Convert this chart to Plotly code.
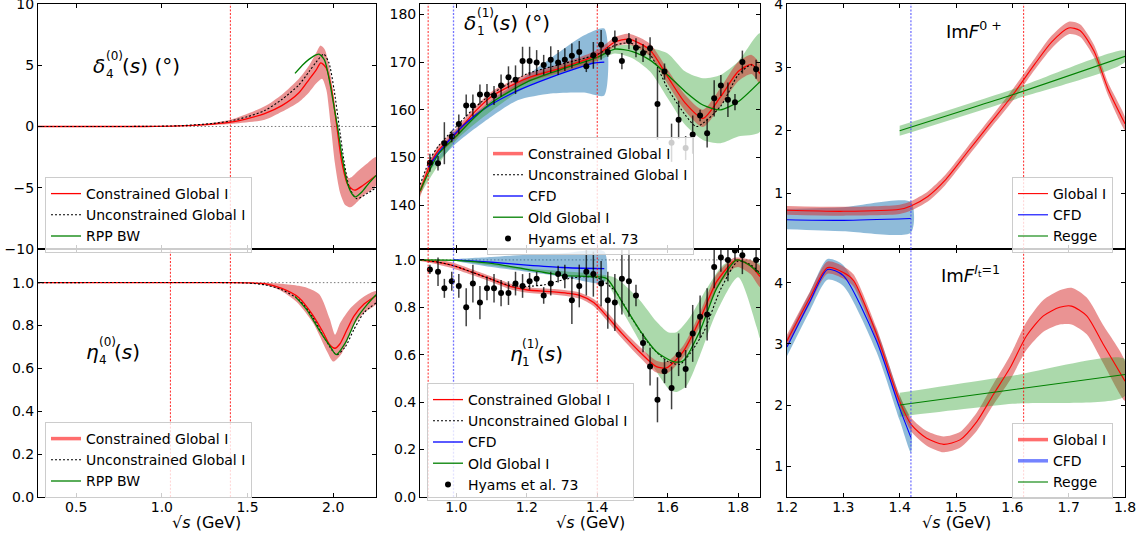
import plotly.graph_objects as go

FONT = "DejaVu Sans"
RED = "#ff0000"
BLUE = "#0000ff"
GREEN = "#008000"
RED_BAND = "rgba(214,39,40,0.5)"
BLUE_BAND = "rgba(31,119,180,0.5)"
GREEN_BAND = "rgba(44,160,44,0.4)"

# ---------------- Panel 1: delta_4^(0) ----------------
d4_con_x = [0.277, 0.6, 0.9, 1.1, 1.3, 1.4, 1.5, 1.6, 1.7, 1.8, 1.86, 1.9, 1.928, 1.96, 1.99, 2.02, 2.05, 2.085, 2.125, 2.175, 2.25]
d4_con_y = [0.0, 0.0, 0.0, 0.05, 0.2, 0.35, 0.65, 1.05, 1.7, 2.75, 3.85, 4.6, 5.2, 4.75, 3.1, 0.1, -2.9, -4.75, -5.2, -4.8, -4.0]
d4_up_x = [0.277, 1.0, 1.2, 1.4, 1.6, 1.7, 1.8, 1.86, 1.9, 1.925, 1.95, 1.975, 2.0, 2.03, 2.06, 2.09, 2.11, 2.14, 2.2, 2.25]
d4_up_y = [0.0, 0.03, 0.15, 0.55, 1.65, 2.6, 3.9, 5.0, 6.0, 6.6, 6.3, 5.0, 2.8, -0.2, -3.0, -4.2, -4.1, -3.7, -3.0, -2.5]
d4_lo_x = [0.277, 1.0, 1.2, 1.4, 1.6, 1.7, 1.8, 1.86, 1.9, 1.935, 1.96, 1.985, 2.01, 2.04, 2.07, 2.1, 2.13, 2.18, 2.25]
d4_lo_y = [0.0, 0.0, 0.05, 0.2, 0.55, 1.2, 2.0, 2.8, 3.5, 3.9, 3.0, 0.2, -3.0, -5.4, -6.4, -6.6, -6.3, -5.6, -4.8]
d4_unc_x = [0.277, 0.6, 0.9, 1.1, 1.3, 1.4, 1.5, 1.6, 1.7, 1.8, 1.86, 1.9, 1.945, 1.975, 2.005, 2.035, 2.065, 2.095, 2.138, 2.2, 2.25]
d4_unc_y = [0.0, 0.0, 0.01, 0.06, 0.25, 0.45, 0.8, 1.3, 2.2, 3.4, 4.5, 5.25, 5.9, 5.2, 3.0, 0.0, -3.0, -5.0, -5.9, -5.45, -5.0]
d4_rpp_x = [1.777, 1.82, 1.86, 1.9, 1.92, 1.95, 1.98, 2.0, 2.025, 2.05, 2.08, 2.105, 2.128, 2.17, 2.21, 2.25]
d4_rpp_y = [4.33, 5.0, 5.5, 5.85, 5.89, 5.4, 3.6, 2.0, 0.0, -2.3, -4.5, -5.4, -5.75, -5.3, -4.6, -4.0]
d4_vlines_red = [1.4]

# ---------------- Panel 2: eta_4^(0) ----------------
e4_con_x = [0.277, 1.0, 1.4, 1.5, 1.6, 1.7, 1.8, 1.88, 1.94, 1.98, 2.01, 2.04, 2.08, 2.12, 2.18, 2.25]
e4_con_y = [1.0, 1.0, 1.0, 0.999, 0.995, 0.973, 0.93, 0.85, 0.77, 0.71, 0.694, 0.715, 0.78, 0.843, 0.9, 0.939]
e4_up_x = [0.277, 1.4, 1.6, 1.7, 1.8, 1.85, 1.92, 1.98, 2.011, 2.04, 2.1, 2.18, 2.25]
e4_up_y = [1.0, 1.0, 1.0, 0.995, 0.985, 0.975, 0.945, 0.83, 0.757, 0.81, 0.88, 0.935, 0.96]
e4_lo_x = [0.277, 1.4, 1.6, 1.7, 1.787, 1.884, 1.963, 2.0, 2.05, 2.12, 2.18, 2.25]
e4_lo_y = [1.0, 0.999, 0.99, 0.96, 0.91, 0.81, 0.68, 0.632, 0.67, 0.80, 0.86, 0.9]
e4_unc_x = [0.277, 1.4, 1.5, 1.6, 1.7, 1.8, 1.88, 1.95, 2.02, 2.07, 2.12, 2.18, 2.25]
e4_unc_y = [1.0, 1.0, 0.998, 0.99, 0.967, 0.92, 0.84, 0.74, 0.664, 0.70, 0.78, 0.86, 0.905]
e4_rpp_x = [1.777, 1.845, 1.923, 1.982, 2.017, 2.07, 2.138, 2.2, 2.25]
e4_rpp_y = [0.936, 0.874, 0.773, 0.703, 0.664, 0.718, 0.834, 0.9, 0.944]
e4_vlines_red = [1.05, 1.4]

# ---------------- Panel 3: delta_1^(1) ----------------
d1_con_x = [0.897, 0.925, 0.95, 1.0, 1.05, 1.1, 1.2, 1.3, 1.4, 1.45, 1.49, 1.55, 1.6, 1.65, 1.7, 1.75, 1.8, 1.838, 1.862]
d1_con_y = [142.9, 148.4, 151.6, 155.1, 159.4, 162.8, 166.6, 168.8, 171.5, 174.2, 174.8, 172.5, 166.9, 161.4, 158.2, 162.7, 168.0, 169.5, 167.5]
d1_con_up = [144.1, 149.4, 152.6, 156.1, 160.4, 163.8, 167.5, 169.7, 172.5, 175.2, 175.9, 173.8, 168.4, 163.1, 160.0, 164.6, 170.0, 171.5, 169.5]
d1_con_lo = [141.7, 147.4, 150.6, 154.1, 158.4, 161.8, 165.7, 167.9, 170.5, 173.2, 173.7, 171.2, 165.4, 159.7, 156.4, 160.8, 166.0, 167.5, 165.5]
d1_unc_x = [0.897, 0.925, 0.95, 1.0, 1.05, 1.1, 1.2, 1.3, 1.4, 1.45, 1.492, 1.55, 1.6, 1.65, 1.682, 1.75, 1.8, 1.837, 1.862]
d1_unc_y = [144.3, 149.6, 152.5, 156.5, 160.3, 163.3, 167.5, 169.6, 171.6, 173.5, 174.0, 171.5, 164.5, 158.9, 156.5, 160.7, 167.3, 169.4, 167.8]
d1_cfd_x = [0.92, 0.95, 0.984, 1.03, 1.079, 1.174, 1.268, 1.363, 1.39, 1.42]
d1_cfd_y = [148.0, 151.0, 154.0, 157.4, 160.2, 164.0, 166.8, 169.2, 169.8, 170.0]
d1_cfd_bx = [0.92, 1.0, 1.1, 1.174, 1.268, 1.363, 1.42]
d1_cfd_up = [149.0, 155.8, 162.0, 165.8, 170.8, 175.6, 177.0]
d1_cfd_lo = [147.0, 153.0, 158.6, 162.0, 163.4, 163.6, 163.0]
d1_old_x = [0.897, 0.95, 1.0, 1.05, 1.1, 1.2, 1.3, 1.4, 1.45, 1.5, 1.55, 1.6, 1.65, 1.7, 1.75, 1.8, 1.862]
d1_old_y = [143.0, 150.8, 154.5, 158.3, 161.5, 165.8, 168.5, 171.0, 172.7, 172.2, 170.4, 167.3, 163.8, 161.0, 160.0, 161.7, 165.9]
d1_old_bx = [0.897, 1.0, 1.2, 1.4, 1.45, 1.5, 1.55, 1.6, 1.65, 1.7, 1.75, 1.8, 1.862]
d1_old_up = [143.8, 155.3, 166.6, 171.8, 173.4, 173.6, 173.0, 171.8, 168.0, 166.6, 167.3, 170.1, 176.0]
d1_old_lo = [142.2, 153.6, 164.8, 170.2, 171.8, 170.8, 168.0, 162.4, 156.8, 153.7, 153.0, 154.4, 155.4]

hyams_x = [0.925, 0.948, 0.966, 0.987, 1.007, 1.028, 1.047, 1.067, 1.087, 1.107, 1.127, 1.148, 1.168, 1.188, 1.208,
           1.228, 1.248, 1.268, 1.289, 1.308, 1.328, 1.349, 1.369, 1.389, 1.411, 1.43, 1.45, 1.47, 1.49, 1.51,
           1.53, 1.55, 1.571, 1.591, 1.611, 1.631, 1.651, 1.671, 1.692, 1.712, 1.732, 1.751, 1.771, 1.791, 1.812, 1.851]
hyams_delta = [148.9, 148.8, 153.0, 154.4, 157.0, 160.9, 160.9, 163.2, 163.2, 163.0, 165.1, 166.8, 166.3, 170.2, 170.2,
               169.9, 169.4, 170.5, 169.9, 170.5, 171.3, 172.1, 169.1, 171.4, 173.6, 172.1, 174.7, 170.2, 174.4, 173.0,
               171.9, 172.9, 161.2, 168.0, 153.1, 157.9, 152.0, 154.8, 158.8, 155.1, 162.4, 165.1, 162.1, 161.6, 170.0, 168.5]
hyams_delta_err = [1.9, 1.5, 4.4, 1.2, 2.0, 2.3, 2.3, 2.1, 2.2, 2.0, 2.3, 2.3, 3.0, 3.0, 3.0,
                   2.6, 2.1, 2.8, 2.6, 2.4, 2.6, 2.3, 1.2, 2.8, 3.1, 1.0, 1.9, 1.7, 1.7, 2.0,
                   1.9, 2.3, 7.5, 1.7, 4.0, 4.0, 2.5, 4.0, 1.2, 3.0, 3.8, 2.2, 3.6, 1.7, 2.4, 2.0]
hyams_eta = [0.96, 0.95, 0.88, 0.91, 0.89, 0.80, 0.90, 0.82, 0.88, 0.88, 0.86, 0.86, 0.90, 0.89, 0.91,
             0.92, 0.85, 0.90, 0.94, 0.93, 0.83, 0.89, 0.95, 0.94, 0.90, 0.83, 0.82, 0.92, 0.91, 0.85,
             0.65, 0.55, 0.41, 0.53, 0.46, 0.60, 0.54, 0.69, 0.76, 0.77, 0.97, 1.01, 1.00, 1.04, 1.02, 1.00]
hyams_eta_err = [0.02, 0.06, 0.04, 0.04, 0.05, 0.08, 0.08, 0.07, 0.05, 0.06, 0.055, 0.05, 0.05, 0.05, 0.035,
                 0.03, 0.035, 0.05, 0.035, 0.05, 0.1, 0.09, 0.1, 0.095, 0.095, 0.12, 0.12, 0.15, 0.15, 0.045,
                 0.04, 0.08, 0.095, 0.05, 0.09, 0.09, 0.08, 0.12, 0.09, 0.11, 0.09, 0.06, 0.09, 0.04, 0.08, 0.05]
mid_vlines_red = [0.92, 1.4]
mid_vlines_blue = [0.992]

# ---------------- Panel 4: eta_1^(1) ----------------
e1_con_x = [0.897, 0.95, 0.984, 1.041, 1.079, 1.117, 1.155, 1.202, 1.268, 1.316, 1.35, 1.39, 1.426, 1.47, 1.52, 1.568, 1.597, 1.644, 1.691, 1.739, 1.786, 1.80, 1.835, 1.862]
e1_con_y = [1.0, 0.99, 0.979, 0.95, 0.93, 0.908, 0.887, 0.873, 0.866, 0.859, 0.85, 0.82, 0.765, 0.69, 0.613, 0.55, 0.545, 0.613, 0.747, 0.908, 0.993, 1.0, 0.975, 0.93]
e1_con_up = [1.0, 1.0, 0.991, 0.962, 0.942, 0.92, 0.899, 0.885, 0.878, 0.871, 0.863, 0.835, 0.783, 0.71, 0.635, 0.575, 0.57, 0.638, 0.775, 0.938, 1.008, 1.01, 1.0, 0.975]
e1_con_lo = [0.995, 0.98, 0.967, 0.938, 0.918, 0.896, 0.875, 0.861, 0.854, 0.847, 0.837, 0.805, 0.747, 0.67, 0.591, 0.525, 0.52, 0.588, 0.719, 0.878, 0.963, 0.97, 0.94, 0.885]
e1_unc_x = [0.897, 0.95, 1.0, 1.05, 1.1, 1.15, 1.2, 1.25, 1.3, 1.35, 1.4, 1.45, 1.5, 1.55, 1.6, 1.635, 1.7, 1.75, 1.8, 1.835, 1.862]
e1_unc_y = [1.0, 0.99, 0.972, 0.945, 0.918, 0.893, 0.888, 0.895, 0.915, 0.928, 0.925, 0.87, 0.75, 0.64, 0.572, 0.56, 0.69, 0.875, 0.995, 0.98, 0.945]
e1_cfd_x = [0.992, 1.1, 1.2, 1.3, 1.42]
e1_cfd_y = [1.0, 0.99, 0.978, 0.968, 0.963]
e1_cfd_up = [1.0, 1.012, 1.022, 1.028, 1.035]
e1_cfd_lo = [1.0, 0.97, 0.95, 0.93, 0.905]
e1_old_x = [0.897, 1.0, 1.1, 1.2, 1.3, 1.378, 1.426, 1.473, 1.521, 1.568, 1.616, 1.644, 1.691, 1.739, 1.796, 1.83, 1.862]
e1_old_y = [1.0, 0.998, 0.985, 0.96, 0.935, 0.93, 0.922, 0.816, 0.703, 0.613, 0.571, 0.574, 0.698, 0.88, 1.0, 0.98, 0.94]
e1_old_up_x = [0.897, 1.0, 1.2, 1.4, 1.45, 1.473, 1.521, 1.568, 1.601, 1.625, 1.663, 1.711, 1.758, 1.796, 1.862]
e1_old_up_y = [1.0, 1.0, 0.965, 0.94, 0.925, 0.9, 0.83, 0.74, 0.695, 0.695, 0.758, 0.88, 0.98, 1.0, 0.985]
e1_old_lo_x = [0.897, 1.0, 1.2, 1.4, 1.426, 1.473, 1.521, 1.568, 1.606, 1.625, 1.653, 1.691, 1.739, 1.80, 1.853, 1.862]
e1_old_lo_y = [1.0, 0.995, 0.955, 0.92, 0.905, 0.78, 0.655, 0.529, 0.451, 0.443, 0.468, 0.595, 0.78, 0.927, 0.715, 0.67]

# ---------------- Panel 5: Im F^{0+} ----------------
f0_glob_x = [1.2, 1.3, 1.4, 1.42, 1.45, 1.48, 1.52, 1.56, 1.6, 1.64, 1.67, 1.70, 1.72, 1.745, 1.77, 1.8]
f0_glob_y = [0.73, 0.714, 0.746, 0.80, 0.95, 1.2, 1.65, 2.1, 2.55, 3.05, 3.4, 3.62, 3.58, 3.25, 2.65, 2.1]
f0_glob_up = [0.8, 0.785, 0.82, 0.875, 1.03, 1.28, 1.73, 2.18, 2.64, 3.14, 3.5, 3.72, 3.68, 3.35, 2.75, 2.2]
f0_glob_lo = [0.66, 0.645, 0.67, 0.725, 0.87, 1.12, 1.57, 2.02, 2.46, 2.96, 3.3, 3.52, 3.48, 3.15, 2.55, 2.0]
f0_cfd_x = [1.2, 1.3, 1.42]
f0_cfd_y = [0.58, 0.57, 0.6]
f0_cfd_up = [0.75, 0.78, 0.86]
f0_cfd_lo = [0.43, 0.40, 0.38]
f0_regge_x = [1.4, 1.6, 1.8]
f0_regge_y = [1.99, 2.56, 3.17]
f0_regge_up = [2.07, 2.645, 3.26]
f0_regge_lo = [1.91, 2.475, 3.08]

# ---------------- Panel 6: Im F^{I_t=1} ----------------
f1_glob_x = [1.2, 1.241, 1.272, 1.3, 1.318, 1.359, 1.4, 1.421, 1.448, 1.478, 1.507, 1.537, 1.566, 1.596, 1.625, 1.655, 1.684, 1.705, 1.732, 1.761, 1.8]
f1_glob_y = [3.05, 3.76, 4.25, 4.17, 4.04, 3.16, 2.06, 1.675, 1.456, 1.357, 1.43, 1.73, 2.17, 2.61, 3.13, 3.46, 3.6, 3.62, 3.46, 3.0, 2.39]
f1_glob_up = [3.15, 3.86, 4.35, 4.27, 4.14, 3.26, 2.16, 1.785, 1.576, 1.487, 1.56, 1.88, 2.34, 2.81, 3.36, 3.72, 3.88, 3.92, 3.76, 3.31, 2.71]
f1_glob_lo = [2.95, 3.66, 4.15, 4.07, 3.94, 3.06, 1.96, 1.565, 1.336, 1.227, 1.30, 1.58, 2.0, 2.41, 2.9, 3.2, 3.32, 3.32, 3.16, 2.69, 2.07]
f1_cfd_x = [1.2, 1.241, 1.272, 1.3, 1.359, 1.4, 1.42]
f1_cfd_y = [2.95, 3.7, 4.22, 4.12, 3.05, 1.95, 1.47]
f1_cfd_up = [3.1, 3.85, 4.39, 4.29, 3.23, 2.15, 1.72]
f1_cfd_lo = [2.8, 3.55, 4.05, 3.95, 2.87, 1.75, 1.22]
f1_regge_x = [1.4, 1.6, 1.8]
f1_regge_y = [2.0, 2.25, 2.5]
f1_regge_up = [2.2, 2.48, 2.75]
f1_regge_lo = [1.81, 2.02, 2.15]
right_vlines_blue = [1.42]
right_vlines_red = [1.62]

# ================= figure =================
W, H = 1143, 538
fig = go.Figure()


def ax(n):
    return ("x" if n == 1 else f"x{n}"), ("y" if n == 1 else f"y{n}")


def legname(n):
    return "legend" if n == 1 else f"legend{n}"


def line(n, x, y, color, name=None, dash="solid", width=1.3, smooth=0.7, legcolor=None):
    xa, ya = ax(n)
    show_here = name is not None and legcolor is None
    fig.add_trace(go.Scatter(
        x=x, y=y, mode="lines", xaxis=xa, yaxis=ya,
        line=dict(color=color, width=width, dash=dash, shape="spline", smoothing=smooth),
        name=name or "", showlegend=show_here, legend=legname(n), hoverinfo="skip"))
    if name is not None and legcolor is not None:
        # legend handle drawn as line + band (thick, pale)
        fig.add_trace(go.Scatter(
            x=[None], y=[None], mode="lines", xaxis=xa, yaxis=ya,
            line=dict(color=legcolor, width=3.5), name=name, showlegend=True,
            legend=legname(n), hoverinfo="skip"))


def band(n, xu, yu, xl, yl, color, smooth=0.7):
    xa, ya = ax(n)
    fig.add_trace(go.Scatter(
        x=list(xu) + list(xl)[::-1], y=list(yu) + list(yl)[::-1], mode="lines",
        xaxis=xa, yaxis=ya, fill="toself", fillcolor=color,
        line=dict(width=0, color=color, shape="spline", smoothing=smooth),
        showlegend=False, hoverinfo="skip"))


def points(n, x, y, err, name):
    xa, ya = ax(n)
    fig.add_trace(go.Scatter(
        x=x, y=y, mode="markers", xaxis=xa, yaxis=ya, name=name, legend=legname(n),
        marker=dict(color="black", size=6),
        error_y=dict(type="data", array=err, visible=True, color="rgba(0,0,0,0.75)", thickness=1.5, width=0),
        hoverinfo="skip"))


DOT = "2px,2px"
PALE_RED = "rgba(255,60,60,0.75)"
PALE_BLUE = "rgba(70,90,255,0.75)"

# Panel 1
band(1, d4_up_x, d4_up_y, d4_lo_x, d4_lo_y, RED_BAND)
line(1, d4_con_x, d4_con_y, RED, "Constrained Global I")
line(1, d4_unc_x, d4_unc_y, "black", "Unconstrained Global I", dash=DOT, width=1.1)
line(1, d4_rpp_x, d4_rpp_y, GREEN, "RPP BW")

# Panel 2
band(2, e4_up_x, e4_up_y, e4_lo_x, e4_lo_y, RED_BAND)
line(2, e4_con_x, e4_con_y, RED, "Constrained Global I", legcolor=PALE_RED)
line(2, e4_unc_x, e4_unc_y, "black", "Unconstrained Global I", dash=DOT, width=1.1)
line(2, e4_rpp_x, e4_rpp_y, GREEN, "RPP BW")

# Panel 3
band(3, d1_cfd_bx, d1_cfd_up, d1_cfd_bx, d1_cfd_lo, BLUE_BAND)
band(3, d1_old_bx, d1_old_up, d1_old_bx, d1_old_lo, GREEN_BAND)
band(3, d1_con_x, d1_con_up, d1_con_x, d1_con_lo, RED_BAND)
line(3, d1_con_x, d1_con_y, RED, "Constrained Global I", legcolor=PALE_RED)
line(3, d1_unc_x, d1_unc_y, "black", "Unconstrained Global I", dash=DOT, width=1.1)
line(3, d1_cfd_x, d1_cfd_y, BLUE, "CFD")
line(3, d1_old_x, d1_old_y, GREEN, "Old Global I")
points(3, hyams_x, hyams_delta, hyams_delta_err, "Hyams et al. 73")

# Panel 4
band(4, e1_cfd_x, e1_cfd_up, e1_cfd_x, e1_cfd_lo, BLUE_BAND)
band(4, e1_old_up_x, e1_old_up_y, e1_old_lo_x, e1_old_lo_y, GREEN_BAND)
band(4, e1_con_x, e1_con_up, e1_con_x, e1_con_lo, RED_BAND)
line(4, e1_con_x, e1_con_y, RED, "Constrained Global I")
line(4, e1_unc_x, e1_unc_y, "black", "Unconstrained Global I", dash=DOT, width=1.1)
line(4, e1_cfd_x, e1_cfd_y, BLUE, "CFD")
line(4, e1_old_x, e1_old_y, GREEN, "Old Global I")
points(4, hyams_x, hyams_eta, hyams_eta_err, "Hyams et al. 73")

# Panel 5
band(5, f0_cfd_x, f0_cfd_up, f0_cfd_x, f0_cfd_lo, BLUE_BAND)
band(5, f0_glob_x, f0_glob_up, f0_glob_x, f0_glob_lo, RED_BAND)
band(5, f0_regge_x, f0_regge_up, f0_regge_x, f0_regge_lo, GREEN_BAND)
line(5, f0_glob_x, f0_glob_y, RED, "Global I", width=1.1)
line(5, f0_cfd_x, f0_cfd_y, BLUE, "CFD", width=1.1)
line(5, f0_regge_x, f0_regge_y, GREEN, "Regge", width=1.1)

# Panel 6
band(6, f1_cfd_x, f1_cfd_up, f1_cfd_x, f1_cfd_lo, BLUE_BAND)
band(6, f1_glob_x, f1_glob_up, f1_glob_x, f1_glob_lo, RED_BAND)
band(6, f1_regge_x, f1_regge_up, f1_regge_x, f1_regge_lo, GREEN_BAND)
line(6, f1_glob_x, f1_glob_y, RED, "Global I", width=1.1, legcolor=PALE_RED)
line(6, f1_cfd_x, f1_cfd_y, BLUE, "CFD", width=1.1, legcolor=PALE_BLUE)
line(6, f1_regge_x, f1_regge_y, GREEN, "Regge", width=1.1)

# ---------- axes ----------
XL = [0.0332, 0.3290]
XM = [0.3675, 0.6649]
XR = [0.6885, 0.9843]
YT = [0.5372, 0.9926]
YB = [0.0762, 0.5372]

panels = {
    1: dict(xd=XL, yd=YT, xr=[0.277, 2.25], yr=[-10, 10], xt=[0.5, 1.0, 1.5, 2.0], yt=[-10, -5, 0, 5, 10], yfmt="{:g}", xlab=False),
    2: dict(xd=XL, yd=YB, xr=[0.277, 2.25], yr=[0, 1.157], xt=[0.5, 1.0, 1.5, 2.0], yt=[0, 0.2, 0.4, 0.6, 0.8, 1.0], yfmt="{:.1f}", xlab=True),
    3: dict(xd=XM, yd=YT, xr=[0.897, 1.862], yr=[130.85, 182.16], xt=[1.0, 1.2, 1.4, 1.6, 1.8], yt=[140, 150, 160, 170, 180], yfmt="{:g}", xlab=False),
    4: dict(xd=XM, yd=YB, xr=[0.897, 1.862], yr=[0, 1.046], xt=[1.0, 1.2, 1.4, 1.6, 1.8], yt=[0, 0.2, 0.4, 0.6, 0.8, 1.0], yfmt="{:.1f}", xlab=True),
    5: dict(xd=XR, yd=YT, xr=[1.2, 1.8], yr=[0.117, 4.0], xt=[1.2, 1.3, 1.4, 1.5, 1.6, 1.7, 1.8], yt=[1, 2, 3, 4], yfmt="{:g}", xlab=False),
    6: dict(xd=XR, yd=YB, xr=[1.2, 1.8], yr=[0.495, 4.555], xt=[1.2, 1.3, 1.4, 1.5, 1.6, 1.7, 1.8], yt=[1, 2, 3, 4], yfmt="{:g}", xlab=True),
}

common = dict(showline=True, linecolor="black", linewidth=1, mirror="allticks", ticks="inside",
              ticklen=4, tickwidth=1, tickcolor="black", showgrid=False, zeroline=False,
              tickfont=dict(family=FONT, size=14, color="black"), automargin=False, fixedrange=True,
              ticklabeloverflow="allow")

layout_axes = {}
for n, p in panels.items():
    xa, ya = ax(n)
    xkey = "xaxis" if n == 1 else f"xaxis{n}"
    ykey = "yaxis" if n == 1 else f"yaxis{n}"
    layout_axes[xkey] = dict(common, domain=p["xd"], range=p["xr"], anchor=ya,
                             tickvals=p["xt"], ticktext=["{:.1f}".format(v) for v in p["xt"]],
                             showticklabels=p["xlab"], ticklabelstandoff=-3)
    layout_axes[ykey] = dict(common, domain=p["yd"], range=p["yr"], anchor=xa,
                             tickvals=p["yt"],
                             ticktext=[p["yfmt"].format(v).replace("-", "\u2212") for v in p["yt"]])

# ---------- reference lines ----------
shapes = []
VDOT = "2px,1.6px"


def vline(n, xv, color, width=1):
    xa, ya = ax(n)
    shapes.append(dict(type="line", xref=xa, yref=f"{ya} domain", x0=xv, x1=xv, y0=0, y1=1,
                       line=dict(color=color, width=width, dash=VDOT), layer="above"))


def hline(n, yv):
    xa, ya = ax(n)
    shapes.append(dict(type="line", xref=f"{xa} domain", yref=ya, x0=0, x1=1, y0=yv, y1=yv,
                       line=dict(color="#555555", width=0.8, dash="1.5px,2.2px"), layer="below"))


VRED = "rgba(255,0,0,0.85)"
VBLUE = "rgba(70,70,255,0.75)"
hline(1, 0)
hline(2, 1)
hline(4, 1)
for v in d4_vlines_red:
    vline(1, v, VRED)
for v in e4_vlines_red:
    vline(2, v, VRED)
for n in (3, 4):
    for v in mid_vlines_red:
        vline(n, v, VRED)
    for v in mid_vlines_blue:
        vline(n, v, VBLUE, width=1.3)
for n in (5, 6):
    for v in right_vlines_blue:
        vline(n, v, VBLUE, width=1.3)
    for v in right_vlines_red:
        vline(n, v, VRED)

# ---------- annotations ----------
annotations = []


def txt(text, px, py, size, anchor="left"):
    annotations.append(dict(text=text, x=px / W, y=1 - py / H, xref="paper", yref="paper",
                            xanchor=anchor, yanchor="middle", showarrow=False,
                            font=dict(family=FONT, size=size, color="black")))


def mathlabel(sym, sub, sup, rest, x0, xs, xr, cy):
    # symbol with stacked sub/superscript, then the rest
    txt(f"<i>{sym}</i>", x0, cy, 20)
    txt(sup, xs, cy - 10, 12)
    txt(sub, xs, cy + 8, 12)
    txt(rest, xr, cy, 20)


mathlabel("δ", "4", "(0)", "(<i>s</i>) (°)", 91, 104, 120, 66)
mathlabel("η", "4", "(0)", "(<i>s</i>)", 84, 97, 112, 352)
mathlabel("δ", "1", "(1)", "(<i>s</i>) (°)", 462, 475, 490, 23)
mathlabel("η", "1", "(1)", "(<i>s</i>)", 508, 520, 535, 354)
txt("Im<i>F</i><sup>0 +</sup>", 944, 30, 18)
txt("Im<i>F</i><sup><i>I</i><sub>t</sub>=1</sup>", 939, 274, 18)
for xd in (XL, XM, XR):
    txt("√<i>s</i> (GeV)", (xd[0] + xd[1]) / 2 * W, 522, 16, anchor="center")


# ---------- legends ----------
def leg(px, py):
    return dict(x=px / W, y=1 - py / H, xanchor="left", yanchor="top", xref="paper", yref="paper",
                bgcolor="rgba(255,255,255,0.8)", bordercolor="#cccccc", borderwidth=1,
                font=dict(family=FONT, size=14, color="black"), tracegroupgap=0, itemwidth=30)


fig.update_layout(
    width=W, height=H, margin=dict(l=0, r=0, t=0, b=0),
    paper_bgcolor="white", plot_bgcolor="white",
    font=dict(family=FONT, size=14, color="black"),
    shapes=shapes, annotations=annotations,
    legend=leg(45, 177),
    legend2=leg(45, 422),
    legend3=leg(487, 137),
    legend4=leg(427, 383),
    legend5=leg(1012, 177),
    legend6=leg(1012, 423),
    **layout_axes,
)

fig.write_html("out.html", config={"displayModeBar": False},
               post_script="document.body.style.margin='0px';document.body.style.overflow='hidden';")
